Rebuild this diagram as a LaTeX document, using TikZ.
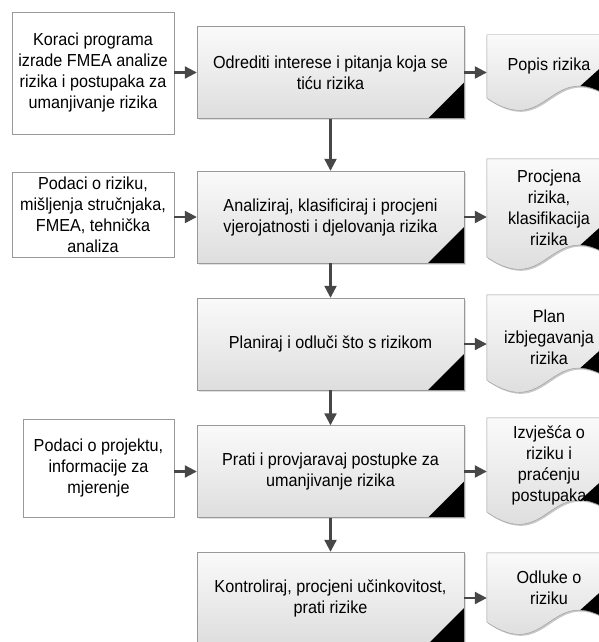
\documentclass[tikz,border=0pt]{standalone}
\usepackage{fontspec}
\setmainfont[FakeStretch=0.93]{Liberation Sans}
\usetikzlibrary{positioning,arrows.meta,calc,shadows,backgrounds}

\tikzset{
	mainbox/.style={draw=black!40, top color=black!2, bottom color=black!13,
		minimum width=267pt, minimum height=92pt, inner sep=0pt, align=center,
		drop shadow={shadow xshift=1.5pt, shadow yshift=-1.5pt, opacity=0.3, fill=black!40},
		path picture={\fill[black] (path picture bounding box.south east) -- ++(-36,0) -- ++(36,-36) -- cycle;}},
	inbox/.style={draw=black!40, fill=white, inner sep=0pt, align=center},
	docbox/.style={inner sep=0pt, minimum width=124pt, align=center},
	arr/.style={-{Triangle[length=12pt,width=12pt]}, line width=2.2pt, draw=black!72}
}

% document shape round a doc node
\newcommand{\docpath}[1]{(#1.north west) -- (#1.north east) -- (#1.south east)
	.. controls ($(#1.south)+(0,-42)$) and ($(#1.south)+(0,42)$) .. (#1.south west) -- cycle}

\begin{document}
\begin{tikzpicture}[x=1pt, y=-1pt, font=\fontsize{17.4}{21}\selectfont]
	\useasboundingbox (0,0) rectangle (598,642);
	\node[mainbox] (m1) at (330.5,72.5) {Odrediti interese i pitanja koja se\\ tiću rizika};
	\node[mainbox] (m2) at (330.5,217) {Analiziraj, klasificiraj i procjeni\\ vjerojatnosti i djelovanja rizika};
	\node[mainbox] (m3) at (330.5,344) {Planiraj i odluči što s rizikom};
	\node[mainbox] (m4) at (330.5,471.5) {Prati i provjaravaj postupke za\\ umanjivanje rizika};
	\node[mainbox] (m5) at (330.5,598) {Kontroliraj, procjeni učinkovitost,\\ prati rizike};

	\node[inbox, minimum width=162pt, minimum height=122pt] (l1) at (93,73) {Koraci programa\\ izrade FMEA analize\\ rizika i postupaka za\\ umanjivanje rizika};
	\node[inbox, minimum width=162pt, minimum height=85pt] (l2) at (93,214.5) {Podaci o riziku,\\ mišljenja stručnjaka,\\ FMEA, tehnička\\ analiza};
	\node[inbox, minimum width=151pt, minimum height=98pt] (l3) at (98.5,468) {Podaci o projektu,\\ informacije za\\ mjerenje};

	\node[docbox, minimum height=63pt] (d1) at (549,66.5) {Popis rizika};
	\node[docbox, minimum height=98pt] (d2) at (549,208) {Procjena\\ rizika,\\ klasifikacija\\ rizika};
	\node[docbox, minimum height=85pt] (d3) at (549,337.5) {Plan\\ izbjegavanja\\ rizika};
	\node[docbox, minimum height=94pt] (d4) at (549,465) {Izvješća o\\ riziku i\\ praćenju\\ postupaka};
	\node[docbox, minimum height=69pt] (d5) at (549,587.5) {Odluke o\\ riziku};

	\begin{scope}[on background layer]
		\foreach \d in {d1,d2,d3,d4,d5}{
			\fill[black!22, transform canvas={shift={(1.5pt,-1.5pt)}}] \docpath{\d};
			\begin{scope}
				\clip \docpath{\d};
				\shade[top color=black!2, bottom color=black!13] (\d.north west) rectangle ($(\d.south east)+(0,15)$);
				\fill[black] ($(\d.south east)+(-40,-4)$) -- ($(\d.south east)+(0,-40)$) -- ($(\d.south east)+(0,20)$) -- cycle;
			\end{scope}
			\draw[black!40] \docpath{\d};
		}
	\end{scope}

	\draw[arr] (m1) -- (m2);
	\draw[arr] (m2) -- (m3);
	\draw[arr] (m3) -- (m4);
	\draw[arr] (m4) -- (m5);

	\draw[arr] (m1.west -| l1.east) -- (m1.west);
	\draw[arr] (m2.west -| l2.east) -- (m2.west);
	\draw[arr] (m4.west -| l3.east) -- (m4.west);

	\draw[arr] (m1.east) -- (m1.east -| d1.west);
	\draw[arr] (m2.east) -- (m2.east -| d2.west);
	\draw[arr] (m3.east) -- (m3.east -| d3.west);
	\draw[arr] (m4.east) -- (m4.east -| d4.west);
	\draw[arr] (m5.east) -- (m5.east -| d5.west);
\end{tikzpicture}
\end{document}
